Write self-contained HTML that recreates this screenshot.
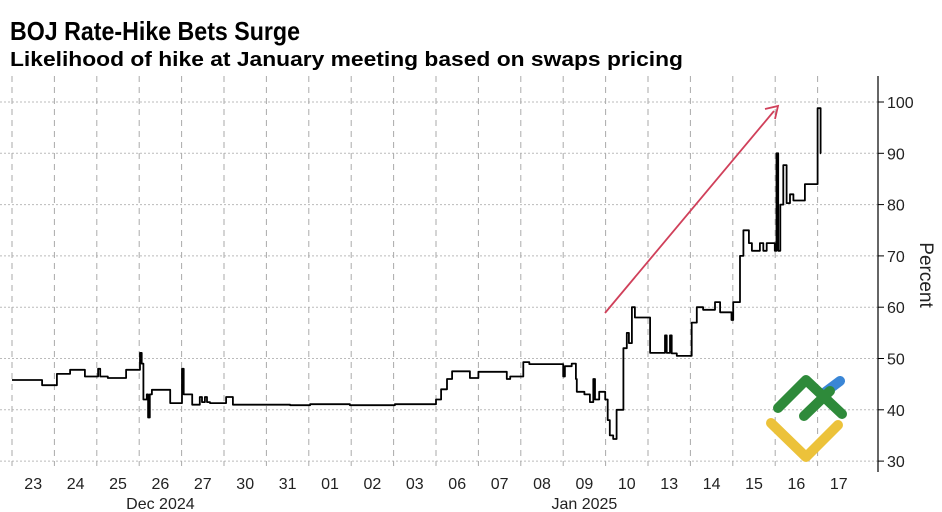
<!DOCTYPE html>
<html><head><meta charset="utf-8"><style>
html,body{margin:0;padding:0;background:#fff;}
svg{display:block;font-family:"Liberation Sans","DejaVu Sans",sans-serif;}
</style></head><body>
<svg id="chart" width="942" height="512" viewBox="0 0 942 512">
<text x="10" y="40" font-size="26" font-weight="bold" textLength="290" lengthAdjust="spacingAndGlyphs" fill="#000">BOJ Rate-Hike Bets Surge</text>
<text x="10" y="66" font-size="20" font-weight="bold" textLength="673" lengthAdjust="spacingAndGlyphs" fill="#000">Likelihood of hike at January meeting based on swaps pricing</text>
<g id="grid"></g>
<g id="axes"></g>
<g id="series"></g>
<line x1="605" y1="313" x2="774" y2="111" stroke="#d0405a" stroke-width="1.8"/>
<polyline points="765,109 778,106 775,119" fill="none" stroke="#d0405a" stroke-width="1.8"/>
<text transform="translate(920,275) rotate(90)" font-size="19" text-anchor="middle" fill="#222">Percent</text>
<g>
<polyline points="771,423 806,457 838,425" fill="none" stroke="#ecc23a" stroke-width="10" stroke-linecap="round" stroke-linejoin="round"/>
<line x1="824" y1="393" x2="840" y2="381" stroke="#3a86d6" stroke-width="10" stroke-linecap="round"/>
<polyline points="778,408 806,380 842,414" fill="none" stroke="#2e8a3a" stroke-width="10" stroke-linecap="round" stroke-linejoin="round"/>
<line x1="804" y1="416" x2="830" y2="391" stroke="#2e8a3a" stroke-width="10" stroke-linecap="round"/>
</g>
</svg>
<script>
const dayLabels=["23","24","25","26","27","30","31","01","02","03","06","07","08","09","10","13","14","15","16","17"];
const yTicks=[30,40,50,60,70,80,90,100];
const monthLabels=["Dec 2024","Jan 2025"];
const monthPos=[3.5,13.5];
const times=[0,0.71,1.06,1.37,1.72,2.03,2.08,2.26,2.69,3.02,3.06,3.10,3.18,3.21,3.25,3.30,3.73,4.01,4.05,4.25,4.43,4.48,4.55,4.60,4.67,5.05,5.21,6.56,7.03,7.97,9.03,10.0,10.12,10.26,10.38,10.8,11.0,11.67,11.75,12.06,12.2,13.0,13.04,13.2,13.3,13.32,13.5,13.63,13.71,13.75,13.85,13.99,14.05,14.1,14.18,14.26,14.42,14.5,14.55,14.62,14.69,15.05,15.4,15.44,15.52,15.56,15.68,16.03,16.15,16.3,16.58,16.70,16.97,17.01,17.17,17.25,17.38,17.45,17.64,17.72,17.80,17.99,18.03,18.07,18.12,18.19,18.27,18.35,18.43,18.7,19.0,19.07];
const values=[45.8,44.8,47,47.8,46.5,48,46.5,46.2,47.8,51.1,49,42,43,38.5,43,43.9,41.3,48,43,41,42.5,41.5,42.5,41.5,41.3,42.5,41,40.9,41.1,40.9,41.1,42,44,46,47.5,46.2,47.4,46,46.5,49.3,48.9,46.5,48.5,49,46,43.5,43,41.5,46,42,43.5,42,38,35,34.3,40,52,55,53,60,58,51.1,54.5,51.1,54.5,51,50.5,57,60,59.5,61,59,57.5,61,70,75,72.5,71,72.5,71,72.5,71,90,71,80,87.7,80.3,82,80.8,84,98.8,90];
const NS="http://www.w3.org/2000/svg";
const X0=12,DX=42.4,Y100=102,PY=5.13,YB=466,YT=76,XA=878;
const xs=t=>X0+t*DX;
const ys=v=>Y100+(100-v)*PY;
function mk(tag,attrs,parent){const e=document.createElementNS(NS,tag);for(const k in attrs)e.setAttribute(k,attrs[k]);parent.appendChild(e);return e;}
const grid=document.getElementById('grid'),axes=document.getElementById('axes'),series=document.getElementById('series');
yTicks.forEach(v=>{
  const l=mk('line',{x1:0,x2:XA,y1:ys(v),y2:ys(v),stroke:'#bbb','stroke-width':1,'stroke-dasharray':'2,2'},grid);
  
  
  const tk=mk('line',{x1:XA,x2:XA+6,y1:ys(v),y2:ys(v),stroke:'#000','stroke-width':1},axes);
  
  
  const tx=mk('text',{x:XA+9,y:ys(v)+6,'font-size':16,fill:'#222'},axes);
  tx.textContent=v;
  
  
});
for(let i=0;i<dayLabels.length;i++){
  const gl=mk('line',{x1:xs(i),x2:xs(i),y1:YT,y2:YB,stroke:'#aaa','stroke-width':1,'stroke-dasharray':'6,5'},grid);
  
  
  const tx=mk('text',{x:xs(i+0.5),y:489,'font-size':16,fill:'#222','text-anchor':'middle'},axes);
  tx.textContent=dayLabels[i];
  
  
}
monthLabels.forEach((m,i)=>{
  const tx=mk('text',{x:xs(monthPos[i]),y:509,'font-size':16,fill:'#222','text-anchor':'middle'},axes);
  tx.textContent=m;
  
  
});
const ax=mk('line',{x1:XA,x2:XA,y1:YT,y2:YB+6,stroke:'#000','stroke-width':1.2},axes);


let d='';
for(let i=0;i<times.length;i++){
  const x=xs(times[i]).toFixed(1),y=ys(values[i]).toFixed(1);
  if(i===0){d+='M'+x+','+y;}else{d+=' H'+x+' V'+y;}
}
d+=' H'+xs(times[times.length-1]+0.01).toFixed(1);
const pl=mk('path',{d:d,fill:'none',stroke:'#000','stroke-width':1.8,'stroke-linejoin':'round'},series);


</script>
</body></html>
